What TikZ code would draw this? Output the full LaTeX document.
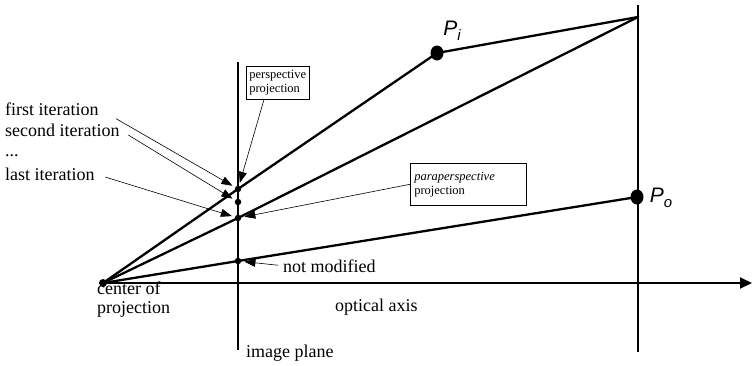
\documentclass[tikz,border=0pt]{standalone}
\usepackage{fontspec}
\setmainfont{Liberation Serif}
\newfontfamily\ptsans{Liberation Sans}
\usetikzlibrary{arrows.meta,positioning,shapes.geometric}

\begin{document}
\begin{tikzpicture}[x=1pt, y=-1pt, >=Stealth, font=\fontsize{18}{19}\selectfont]

        \useasboundingbox (0,0) rectangle (752,365);
        \tikzset{
            ray/.style={line width=2.3pt, line cap=round},
            plane/.style={line width=1.9pt},
            pointer/.style={line width=0.6pt, -{Triangle[length=11pt, width=8pt]}, shorten >=3pt},
            dot/.style={circle, fill=black, inner sep=0pt, minimum size=6.5pt},
            bigdot/.style={ellipse, fill=black, inner sep=0pt, minimum width=13pt, minimum height=15pt},
            caption/.style={inner sep=0pt, anchor=base west},
            ptlabel/.style={inner sep=0pt, font=\fontsize{21}{21}\selectfont\ptsans\itshape},
            tag/.style={draw, line width=0.6pt, inner xsep=3pt, inner ysep=4pt, align=left, anchor=north west, font=\fontsize{12.5}{14}\selectfont}
        }

        % image plane and the line through the scene points
        \coordinate (ipTop) at (238,62);
        \coordinate (ipBot) at (238,350);
        \coordinate (scTop) at (638,5);
        \coordinate (scBot) at (638,352);
        \draw[plane] (ipTop) -- (ipBot);
        \draw[plane] (scTop) -- (scBot);

        % points
        \node[dot, minimum size=8pt] (C) at (103,283) {};
        \node[bigdot] (Pi) at (437,53) {};
        \node[bigdot] (Po) at (637,197) {};
        \coordinate (T) at (638,17);
        \node[dot] (persp) at (238,189) {};
        \node[dot] (iter2) at (238,202) {};
        \node[dot] (para) at (238,218) {};
        \node[dot] (nomod) at (238,261) {};
        \coordinate (axisEnd) at (752,283);

        \node[ptlabel] (PiLbl) at (452,31) {P\raisebox{-0.45ex}{\fontsize{15}{15}\selectfont i}};
        \node[ptlabel] (PoLbl) at (661,198) {P\raisebox{-0.45ex}{\fontsize{15}{15}\selectfont o}};

        % optical axis and rays
        \draw[plane, -{Triangle[length=12pt, width=11pt]}] (C.center) -- (axisEnd);
        \draw[ray] (C.center) -- (persp.center) -- (Pi.center) -- (T);
        \draw[ray] (C.center) -- (para.center) -- (T);
        \draw[ray] (C.center) -- (nomod.center) -- (Po.center);

        % texts
        \node[caption] (first) at (5,115) {first iteration};
        \node[caption] (second) at (5,136) {second iteration};
        \node[caption] (dots) at (5,156) {...};
        \node[caption] (last) at (5,180) {last iteration};
        \node[caption, align=left] (center) at (97,313) {center of\\projection};
        \node[caption] (optaxis) at (335,311) {optical axis};
        \node[caption] (imgplane) at (246,357) {image plane};
        \node[caption] (notmod) at (283,272) {not modified};

        \node[tag] (persbox) at (246,66) {perspective\\projection};
        \node[tag, minimum width=116pt, minimum height=42pt, text width=108pt] (parabox) at (410,163) {\textit{paraperspective}\\projection};

        % pointers
        \draw[pointer, shorten <=20pt] (first.east) -- (persp);
        \draw[pointer, shorten <=10pt] (second.east) -- (iter2);
        \draw[pointer, shorten <=11pt] (last.east) -- (para);
        \draw[pointer] (persbox.south west) ++(18,0) -- (persp);
        \draw[pointer] (parabox.west) -- (para);
        \draw[pointer, shorten <=5pt] (notmod.west) -- (nomod);

    \end{tikzpicture}
\end{document}
